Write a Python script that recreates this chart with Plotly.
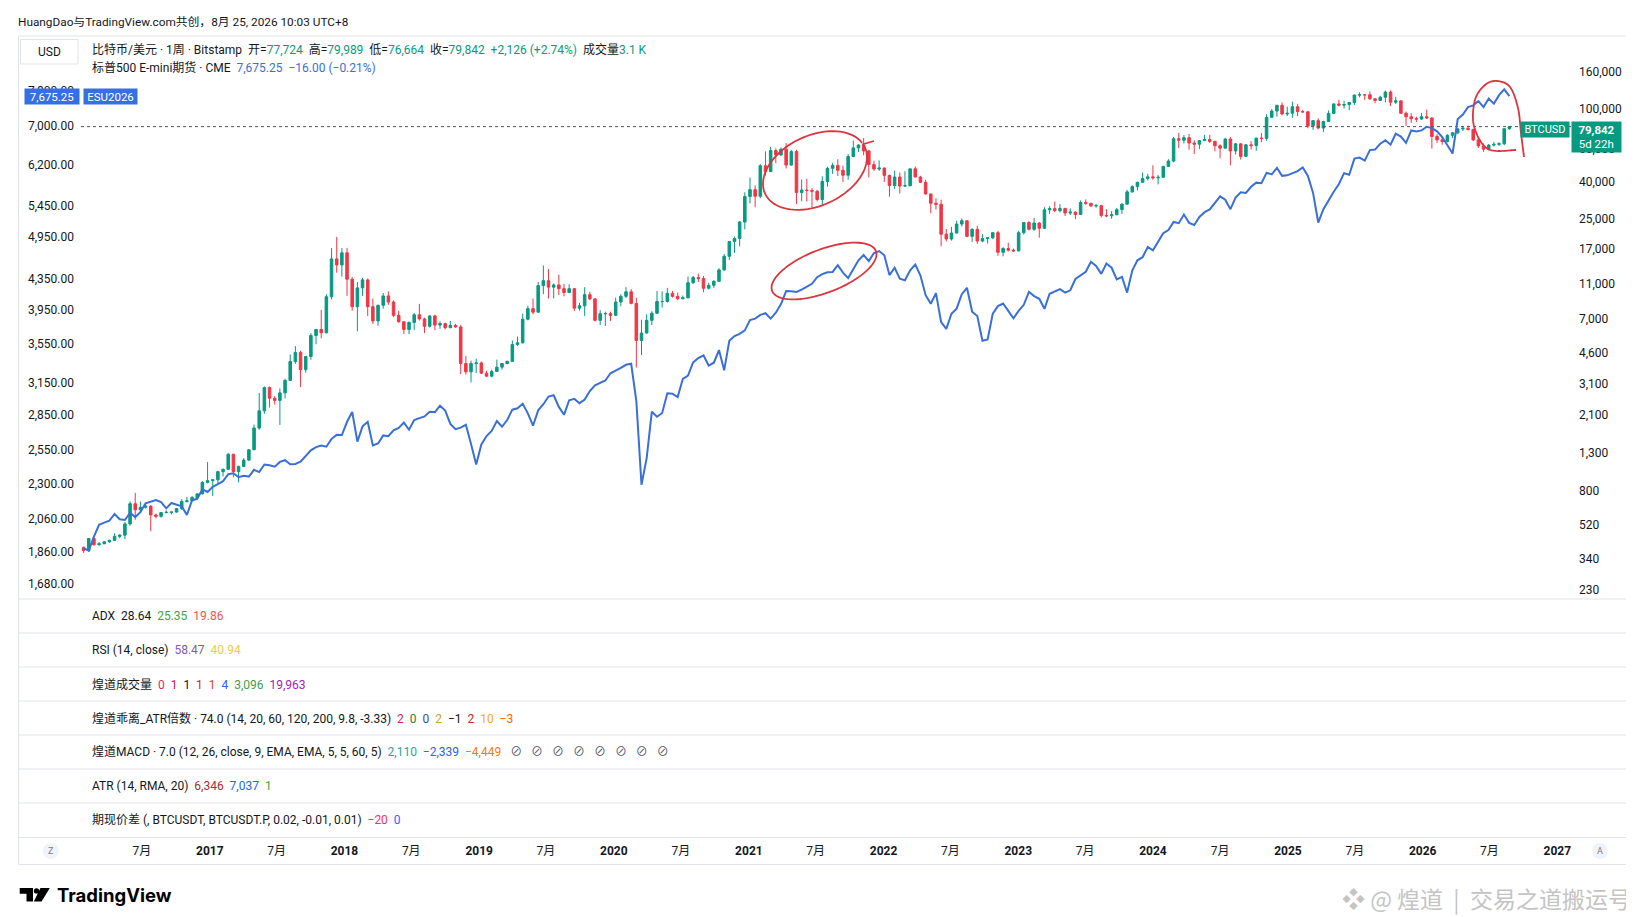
import numpy as np
import pandas as pd
import plotly.graph_objects as go

W, H = 1634, 917
FONT = "Roboto, 'Noto Sans CJK SC', sans-serif"
DARK = "#131722"
UP = "#089981"
DOWN = "#f23645"
ES_BLUE = "#3a6fd8"
LABEL_BLUE = "#3470e4"
RED_PEN = "#d9363e"
LINE = "#e0e3eb"

# BTCUSD (Bitstamp), two-week candles, 2016-01-25 .. 2026-08-24
btc_open = [
    392, 376, 438, 405, 410, 420, 428, 450, 457, 527, 680, 630, 650, 660, 590, 580, 608, 610, 612, 640, 700, 705, 735, 770, 890,
    910, 920, 1020, 1050, 1270, 1020, 1090, 1180, 1345, 1770, 2200, 2950, 2580, 2510, 2760, 3230, 4100, 4600, 3700, 4370, 5700, 6150, 5900, 9300, 15000, 13900,
    16200, 11600, 8200, 10400, 11500, 8200, 6850, 8350, 9400, 8700, 7350, 6780, 6150, 6720, 7400, 7030, 6400, 7300, 6500, 6620, 6290, 6480, 6350, 4000, 3600, 4000,
    4030, 3540, 3410, 3620, 3820, 4000, 4110, 5080, 5200, 7000, 8000, 7650, 10700, 11400, 10500, 10800, 10300, 9800, 10300, 8050, 8300, 9550, 9050, 6900, 7500, 7520,
    7350, 8700, 9350, 9900, 8550, 5350, 5880, 6900, 7550, 8750, 8750, 9700, 9350, 9070, 9180, 11100, 11850, 11700, 10350, 10750, 11300, 13050, 15500, 18700, 19400, 23900,
    33000, 36000, 33100, 48700, 45200, 59000, 55800, 60000, 49100, 58200, 34700, 35800, 35600, 35300, 31800, 39900, 47100, 48900, 46000, 43200, 54700, 61000, 63300, 58700, 49400, 46700,
    47300, 43100, 37900, 42200, 37700, 37800, 46800, 42200, 39500, 34100, 30300, 29900, 20500, 19300, 20800, 23300, 24300, 19950, 21800, 18800, 19400, 19570, 20900, 16300, 17100, 16750,
    16600, 20900, 23750, 21800, 23600, 22100, 27900, 28300, 27600, 28400, 26800, 27100, 26300, 30600, 30300, 29300, 29400, 26000, 25850, 26250, 27950, 29950, 35000, 37400, 39500, 41400,
    42300, 41800, 42100, 48300, 51700, 68500, 67200, 69400, 64900, 63900, 66900, 67800, 66200, 62700, 60800, 68200, 58700, 64200, 54800, 63400, 62800, 69000, 68800, 89800, 97200, 104500, 93700,
    94500, 102600, 96500, 96300, 80600, 86100, 78400, 85100, 94300, 106400, 104600, 105500, 108300, 119000, 119400, 119300, 113500, 111100, 115700, 123500, 108700, 110600, 94500, 90400, 88200, 87800,
    90500, 89000, 70500, 67500, 66000, 71500, 73800, 77500, 78200, 77000, 67500, 62500, 60000, 63200, 63800, 64300, 77724,
]
btc_high = [
    395, 440, 440, 420, 425, 432, 468, 462, 540, 700, 780, 700, 680, 665, 600, 612, 626, 615, 645, 720, 740, 750, 775, 905, 1150,
    925, 1030, 1060, 1290, 1280, 1100, 1210, 1350, 1850, 2760, 2990, 2990, 2650, 2920, 3300, 4480, 4980, 4700, 4400, 5860, 6190, 7880, 9600, 17200, 19800, 17200,
    17250, 11900, 11200, 11800, 11700, 9100, 8400, 9750, 9950, 8880, 7770, 6830, 6800, 7580, 8500, 7150, 7350, 7400, 6800, 6700, 6850, 6600, 6500, 4400, 4150, 4250,
    4100, 3650, 3700, 4200, 4020, 4140, 5350, 5630, 7500, 8300, 9100, 11200, 13800, 13200, 11000, 12300, 10950, 10900, 10350, 8600, 10500, 9900, 9150, 7850, 7700, 7700,
    9200, 9600, 10500, 10250, 9200, 6950, 7450, 7750, 10000, 9950, 10400, 9990, 9800, 9450, 12000, 12100, 12450, 12100, 11100, 11450, 13350, 15950, 18800, 19900, 24200, 34800,
    42000, 38000, 49700, 58400, 61800, 60600, 61300, 64900, 59500, 59600, 40900, 41300, 36700, 35900, 42600, 48000, 50500, 52900, 48800, 56500, 67000, 63700, 69000, 59500, 51900, 52100,
    47600, 43500, 45800, 44700, 45400, 46900, 48200, 42900, 40800, 34200, 32300, 31700, 21900, 22500, 24300, 25000, 24400, 22100, 22800, 20500, 19700, 21000, 21400, 17400, 18400, 17100,
    21400, 23900, 24200, 25200, 23900, 28800, 29200, 31000, 30000, 28600, 28400, 27300, 31400, 31800, 30400, 30100, 29700, 28100, 27450, 28600, 30300, 35900, 38000, 39700, 44700, 44000,
    49000, 43300, 48600, 52900, 70000, 73800, 71800, 72700, 67200, 67400, 71900, 72000, 66900, 63800, 69300, 70000, 65000, 64500, 64100, 66500, 69400, 73600, 93500, 99600, 105000, 108300, 102700,
    109400, 106500, 98800, 96500, 86500, 88700, 86000, 97900, 106600, 111900, 110500, 108900, 119500, 123200, 119800, 124500, 113800, 117900, 125700, 126200, 116400, 110900, 96600, 94600, 90600, 94800,
    99000, 90000, 72500, 70000, 72500, 74500, 78500, 80500, 81000, 77800, 69000, 64500, 64000, 65800, 65500, 78300, 79989,
]
btc_low = [
    365, 370, 400, 400, 408, 415, 425, 440, 435, 515, 555, 605, 640, 480, 565, 570, 603, 594, 608, 628, 690, 700, 730, 765, 880,
    750, 880, 960, 1045, 950, 890, 1080, 1165, 1340, 1730, 2120, 2290, 2380, 1840, 2570, 3220, 3980, 2970, 3560, 4200, 5100, 5500, 5850, 9000, 12600, 12000,
    9400, 7800, 6000, 9400, 7300, 6600, 6450, 8000, 8400, 7200, 6700, 5820, 5800, 6100, 6880, 5880, 6300, 6100, 6200, 6150, 6250, 6280, 3500, 3480, 3150, 3550,
    3500, 3380, 3360, 3600, 3700, 3950, 4090, 5000, 5150, 6900, 7450, 7600, 9600, 9100, 9100, 9500, 9350, 9750, 7750, 7800, 7300, 8900, 6800, 6500, 6430, 6850,
    7300, 8250, 9150, 8450, 3800, 4450, 5850, 6500, 7500, 8100, 8650, 9200, 8900, 9000, 9100, 10950, 11200, 9850, 10200, 10400, 11200, 12900, 14800, 16200, 17600, 21800,
    30300, 28800, 32300, 43000, 45000, 50300, 55000, 47000, 48800, 30000, 31100, 31000, 28800, 31000, 29300, 37400, 43900, 42800, 39600, 40800, 54300, 58000, 55600, 42000, 45700, 45600,
    39700, 32900, 36300, 34300, 37200, 37600, 42100, 39200, 33800, 26700, 28000, 17600, 18700, 18900, 20700, 22600, 19700, 18600, 18150, 18500, 18200, 19250, 15600, 15500, 16500, 16400,
    16500, 20400, 21500, 21400, 19600, 21900, 26500, 27100, 27000, 25800, 26100, 24800, 26200, 29700, 29000, 28700, 25300, 25400, 24900, 26000, 26500, 29900, 34600, 35600, 39400, 40500,
    40800, 38500, 41800, 48100, 50900, 60800, 64500, 59600, 56500, 60200, 66500, 65000, 58400, 53500, 60600, 49000, 56100, 52600, 54600, 59800, 58900, 65500, 66800, 89400, 90500, 92200, 91200,
    89300, 91200, 94800, 78200, 76600, 77200, 74500, 84700, 93400, 103000, 100400, 98200, 105100, 115700, 112000, 111700, 107300, 110600, 108600, 103500, 106300, 94000, 80600, 83800, 84500, 87000,
    88000, 60500, 65000, 63500, 65500, 69000, 72500, 75500, 76000, 66500, 61000, 58000, 59000, 62000, 62500, 63000, 76664,
]
btc_close = [
    376, 438, 405, 410, 420, 428, 450, 457, 527, 680, 630, 650, 660, 590, 580, 608, 610, 612, 640, 700, 705, 735, 770, 890, 910,
    920, 1020, 1050, 1270, 1020, 1090, 1180, 1345, 1770, 2200, 2950, 2580, 2510, 2760, 3230, 4100, 4600, 3700, 4370, 5700, 6150, 5900, 9300, 15000, 13900, 16200,
    11600, 8200, 10400, 11500, 8200, 6850, 8350, 9400, 8700, 7350, 6780, 6150, 6720, 7400, 7030, 6400, 7300, 6500, 6620, 6290, 6480, 6350, 4000, 3600, 4000, 4030,
    3540, 3410, 3620, 3820, 4000, 4110, 5080, 5200, 7000, 8000, 7650, 10700, 11400, 10500, 10800, 10300, 9800, 10300, 8050, 8300, 9550, 9050, 6900, 7500, 7520, 7350,
    8700, 9350, 9900, 8550, 5350, 5880, 6900, 7550, 8750, 8750, 9700, 9350, 9070, 9180, 11100, 11850, 11700, 10350, 10750, 11300, 13050, 15500, 18700, 19400, 23900, 33000,
    36000, 33100, 48700, 45200, 59000, 55800, 60000, 49100, 58200, 34700, 35800, 35600, 35300, 31800, 39900, 47100, 48900, 46000, 43200, 54700, 61000, 63300, 58700, 49400, 46700, 47300,
    43100, 37900, 42200, 37700, 37800, 46800, 42200, 39500, 34100, 30300, 29900, 20500, 19300, 20800, 23300, 24300, 19950, 21800, 18800, 19400, 19570, 20900, 16300, 17100, 16750, 16600,
    20900, 23750, 21800, 23600, 22100, 27900, 28300, 27600, 28400, 26800, 27100, 26300, 30600, 30300, 29300, 29400, 26000, 25850, 26250, 27950, 29950, 35000, 37400, 39500, 41400, 42300,
    41800, 42100, 48300, 51700, 68500, 67200, 69400, 64900, 63900, 66900, 67800, 66200, 62700, 60800, 68200, 58700, 64200, 54800, 63400, 62800, 69000, 68800, 89800, 97200, 104500, 93700, 94500,
    102600, 96500, 96300, 80600, 86100, 78400, 85100, 94300, 106400, 104600, 105500, 108300, 119000, 119400, 119300, 113500, 111100, 115700, 123500, 108700, 110600, 94500, 90400, 88200, 87800, 90500,
    89000, 70500, 67500, 66000, 71500, 73800, 77500, 78200, 77000, 67500, 62500, 60000, 63200, 63800, 64300, 77724, 79842,
]

# S&P 500 E-mini (CME) closes on the same two-week grid
es_close = [
    1880, 1865, 1948, 2022, 2035, 2048, 2091, 2057, 2052, 2099, 2071, 2103, 2162, 2173, 2184, 2169, 2128, 2164, 2153, 2141, 2085, 2182, 2192, 2258, 2239,
    2275, 2295, 2316, 2367, 2373, 2344, 2355, 2349, 2399, 2382, 2439, 2433, 2423, 2459, 2472, 2441, 2443, 2461, 2502, 2549, 2575, 2587, 2578, 2642, 2675, 2673,
    2786, 2872, 2619, 2747, 2786, 2588, 2604, 2670, 2663, 2712, 2734, 2779, 2718, 2801, 2818, 2833, 2874, 2871, 2929, 2885, 2767, 2723, 2736, 2760, 2600, 2440,
    2596, 2665, 2708, 2793, 2743, 2801, 2893, 2905, 2946, 2860, 2752, 2887, 2942, 3014, 3026, 2918, 2847, 2979, 2992, 2952, 2986, 3066, 3120, 3141, 3168, 3240,
    3265, 3295, 3327, 3337, 2972, 2290, 2488, 2875, 2830, 2863, 3044, 3041, 3009, 3185, 3216, 3351, 3397, 3426, 3319, 3348, 3483, 3270, 3585, 3638, 3663, 3703,
    3824, 3841, 3886, 3906, 3841, 3913, 4019, 4185, 4181, 4173, 4204, 4247, 4280, 4370, 4411, 4437, 4442, 4535, 4433, 4357, 4471, 4605, 4682, 4595, 4712, 4740,
    4677, 4398, 4500, 4349, 4329, 4463, 4545, 4392, 4132, 4023, 4158, 3800, 3720, 3899, 3962, 4145, 4228, 3924, 3873, 3586, 3600, 3901, 3993, 4026, 3934, 3845,
    3935, 4010, 4175, 4120, 4085, 3960, 4150, 4180, 4210, 4165, 4195, 4345, 4395, 4445, 4585, 4525, 4415, 4560, 4500, 4340, 4375, 4165, 4460, 4605, 4650, 4800,
    4750, 4890, 5010, 5060, 5190, 5170, 5310, 5175, 5140, 5270, 5350, 5395, 5510, 5620, 5560, 5400, 5600, 5690, 5680, 5790, 5865, 5855, 6045, 6020, 6140, 5990, 6000,
    6040, 6080, 6150, 5990, 5680, 5180, 5400, 5560, 5700, 5840, 6040, 6010, 6320, 6340, 6280, 6490, 6500, 6620, 6690, 6600, 6830, 6770, 6640, 6900, 6880, 6900,
    6980, 6950, 6880, 6760, 6600, 6420, 7150, 7250, 7420, 7460, 7560, 7420, 7620, 7500, 7700, 7840, 7675.25,
]

es_ticks = [1680, 1860, 2060, 2300, 2550, 2850, 3150, 3550, 3950, 4350, 4950, 5450, 6200, 7000, 7800]
btc_ticks = [230, 340, 520, 800, 1300, 2100, 3100, 4600, 7000, 11000, 17000, 25000, 40000, 60000, 100000, 160000]
years = list(range(2016, 2027))

assert len(btc_open) == len(btc_high) == len(btc_low) == len(btc_close) == len(es_close)

periods = pd.date_range(end="2026-08-24", periods=len(btc_close), freq="14D")
X_RANGE = ["2016-01-18", "2027-02-07"]

x_tickvals, x_ticktext = [], []
for y in years:
    x_tickvals += [f"{y}-07-01", f"{y + 1}-01-01"]
    x_ticktext += ["7月", f"<b>{y + 1}</b>"]


def px(x):
    return x / W


def py(y):
    return 1 - y / H


def path_of(points):
    return "M " + " L ".join(f"{px(x):.5f},{py(y):.5f}" for x, y in points)


def ellipse(cx, cy, a, b, tilt, t0=0.0, t1=2 * np.pi, n=90):
    th = np.radians(tilt)
    t = np.linspace(t0, t1, n)
    xs = cx + a * np.cos(th) * np.cos(t) - b * np.sin(th) * np.sin(t)
    ys = cy - (a * np.sin(th) * np.cos(t) + b * np.cos(th) * np.sin(t))
    return list(zip(xs, ys))


def smooth(points, steps=14):
    p = [points[0]] + points + [points[-1]]
    out = []
    for i in range(1, len(p) - 2):
        p0, p1, p2, p3 = (np.array(q, dtype=float) for q in p[i - 1:i + 3])
        for s in np.linspace(0, 1, steps, endpoint=False):
            out.append(0.5 * (2 * p1 + (p2 - p0) * s + (2 * p0 - 5 * p1 + 4 * p2 - p3) * s ** 2
                              + (3 * p1 - p0 - 3 * p2 + p3) * s ** 3))
    out.append(np.array(points[-1], dtype=float))
    return [tuple(q) for q in out]


def c(color, text):
    return f"<span style='color:{color}'>{text}</span>"


sp = "\u00a0"
gap = sp + " "      # TradingView spaces legend values a bit wider


def values(*items):
    return gap.join(c(col, txt) for col, txt in items)


fig = go.Figure()

# last-price dotted line of BTC
fig.add_trace(go.Scatter(
    x=X_RANGE, y=[btc_close[-1]] * 2, mode="lines",
    line=dict(color="#50535e", width=1, dash="dot"), hoverinfo="skip", yaxis="y"))

fig.add_trace(go.Candlestick(
    x=periods, open=btc_open, high=btc_high, low=btc_low, close=btc_close,
    increasing=dict(line=dict(color=UP, width=1), fillcolor=UP),
    decreasing=dict(line=dict(color=DOWN, width=1), fillcolor=DOWN),
    whiskerwidth=0, hoverinfo="skip", yaxis="y", name="BTCUSD"))

fig.add_trace(go.Scatter(
    x=periods, y=es_close, mode="lines", line=dict(color=ES_BLUE, width=2),
    hoverinfo="skip", yaxis="y2", name="ES1!"))

shapes = [
    dict(type="rect", xref="paper", yref="paper", x0=px(10.5), x1=px(1623), y0=py(28), y1=py(856.5),
         line=dict(color=LINE, width=1), layer="below"),
    dict(type="rect", xref="paper", yref="paper", x0=px(12.5), x1=px(70), y0=py(31.5), y1=py(56),
         line=dict(color=LINE, width=1), fillcolor="white"),
]
for yy in [591, 625, 659, 693, 727, 761, 795, 829.5]:
    shapes.append(dict(type="line", xref="paper", yref="paper", x0=px(10.5), x1=px(1623),
                       y0=py(yy), y1=py(yy), line=dict(color=LINE, width=1)))
for cx in [42.7, 1592]:
    shapes.append(dict(type="circle", xref="paper", yref="paper", x0=px(cx - 8), x1=px(cx + 8),
                       y0=py(851), y1=py(835), line=dict(width=0), fillcolor="#f0f3fa"))

# hand-drawn red marks
loop1 = ellipse(807, 162.5, 55, 35, 25, 0.15, 2 * np.pi + 0.1) + [(866, 133)]
loop2 = ellipse(816, 263, 55.6, 21.6, 21)
loop3 = smooth([(1508, 142), (1480, 141), (1466, 118), (1467, 92), (1477, 77), (1489, 73),
                (1502, 79), (1510, 100), (1513, 125), (1516, 149)])
for pts in (loop1, loop2, loop3):
    shapes.append(dict(type="path", xref="paper", yref="paper", path=path_of(pts),
                       line=dict(color=RED_PEN, width=1.8)))

# TradingView logo mark
shapes += [
    dict(type="path", xref="paper", yref="paper",
         path=path_of([(11.7, 880), (25, 880), (25, 893.5), (18.5, 893.5), (18.5, 885.8), (11.7, 885.8)]) + " Z",
         fillcolor="#000000", line=dict(width=0)),
    dict(type="circle", xref="paper", yref="paper", x0=px(25.8), x1=px(31.2), y0=py(885.6), y1=py(880.2),
         fillcolor="#000000", line=dict(width=0)),
    dict(type="path", xref="paper", yref="paper",
         path=path_of([(32.5, 880), (41.8, 880), (33.6, 893.5), (25.8, 893.5)]) + " Z",
         fillcolor="#000000", line=dict(width=0)),
]

ann = []


def text_at(x, y, text, size=12, color=DARK, anchor="left", family=FONT):
    ann.append(dict(x=px(x), y=py(y), xref="paper", yref="paper", text=text, showarrow=False,
                    xanchor=anchor, yanchor="middle", font=dict(size=size, color=color, family=family)))


text_at(8, 14, "HuangDao与TradingView.com共创，8月 25, 2026 10:03 UTC+8", size=11.8)
text_at(41, 44, "USD", anchor="center")
text_at(82, 42, "比特币/美元 · 1周 · Bitstamp" + sp * 2
        + "开=" + c(UP, f"{btc_open[-1]:,}") + sp * 2
        + "高=" + c(UP, f"{btc_high[-1]:,}") + sp * 2
        + "低=" + c(UP, f"{btc_low[-1]:,}") + sp * 2
        + "收=" + c(UP, f"{btc_close[-1]:,}") + sp * 2
        + c(UP, "+2,126 (+2.74%)") + sp * 2 + "成交量" + c(UP, "3.1 K"))
text_at(82, 59, "标普500 E-mini期货 · CME" + sp * 2 + c(ES_BLUE, f"{es_close[-1]:,.2f}" + sp * 2 + "−16.00 (−0.21%)"))

rows = [
    "ADX" + gap + values((DARK, "28.64"), ("#43a047", "25.35"), ("#ef5350", "19.86")),
    "RSI (14, close)" + gap + values(("#7e57c2", "58.47"), ("#f2c94c", "40.94")),
    "煌道成交量" + gap + values(("#e91e63", "0"), ("#c2185b", "1"), (DARK, "1"), ("#c62828", "1"),
                           ("#e53935", "1"), ("#2962ff", "4"), ("#43a047", "3,096"), ("#9c27b0", "19,963")),
    "煌道乖离_ATR倍数 · 74.0 (14, 20, 60, 120, 200, 9.8, -3.33)" + gap
    + values(("#d81b60", "2"), ("#2e7d32", "0"), ("#3949ab", "0"), ("#c9a227", "2"), (DARK, "−1"),
             ("#c62828", "2"), ("#f9a825", "10"), ("#ef6c00", "−3")),
    "煌道MACD · 7.0 (12, 26, close, 9, EMA, EMA, 5, 5, 60, 5)" + gap
    + values(("#26a69a", "2,110"), ("#2962ff", "−2,339"), ("#f57c00", "−4,449"))
    + sp * 2 + " " + (sp * 2 + " ").join([c("#50535e", "⊘")] * 8),
    "ATR (14, RMA, 20)" + gap + values(("#b22833", "6,346"), ("#2962ff", "7,037"), ("#43a047", "1")),
    "期现价差 (, BTCUSDT, BTCUSDT.P, 0.02, -0.01, 0.01)" + gap + values(("#f23645", "−20"), ("#2962ff", "0")),
]
for i, r in enumerate(rows):
    text_at(82, 608 + 34 * i, r)

text_at(42.7, 843, "Z", size=9, color="#787b86", anchor="center")
text_at(1592, 843, "A", size=9, color="#787b86", anchor="center")
text_at(47, 887, "<b>TradingView</b>", size=18.5, color="#000000", family="Inter, Roboto, sans-serif")
ann.append(dict(x=px(1625), y=py(890), xref="paper", yref="paper", showarrow=False, xanchor="right",
                yanchor="middle", text="❖ @ 煌道" + sp * 2 + "|" + sp * 2 + "交易之道搬运号",
                font=dict(size=23, color="#c4c4c4", family="'Noto Sans CJK SC', sans-serif")))

# price labels on the scales
ann += [
    dict(x=px(1537), y=np.log10(btc_close[-1]), xref="paper", yref="y", text="BTCUSD", showarrow=False,
         xanchor="center", yanchor="top", yshift=6, width=48, height=15, bgcolor=UP, borderpad=0,
         font=dict(size=11, color="white", family=FONT)),
    dict(x=px(1588), y=np.log10(btc_close[-1]), xref="paper", yref="y",
         text=f"<b>{btc_close[-1]:,}</b><br>5d 22h", showarrow=False, xanchor="center", yanchor="top",
         yshift=6, width=49, height=30, bgcolor=UP, borderpad=0,
         font=dict(size=11.5, color="white", family=FONT)),
    dict(x=px(44), y=np.log10(es_close[-1]), xref="paper", yref="y2", text=f"{es_close[-1]:,.2f}",
         showarrow=False, xanchor="center", yanchor="middle", width=54, height=15, bgcolor=LABEL_BLUE,
         borderpad=0, font=dict(size=11.5, color="white", family=FONT)),
    dict(x=px(102.5), y=np.log10(es_close[-1]), xref="paper", yref="y2", text="ESU2026",
         showarrow=False, xanchor="center", yanchor="middle", width=53, height=15, bgcolor=LABEL_BLUE,
         borderpad=0, font=dict(size=11.5, color="white", family=FONT)),
]

fig.update_layout(
    width=W, height=H, margin=dict(l=0, r=0, t=0, b=0),
    paper_bgcolor="white", plot_bgcolor="white", showlegend=False, hovermode=False,
    font=dict(family=FONT, size=12, color=DARK),
    xaxis=dict(domain=[px(73), px(1563)], range=X_RANGE, anchor="free", position=py(834),
               showgrid=False, zeroline=False, showline=False, ticks="",
               tickvals=x_tickvals, ticktext=x_ticktext, tickfont=dict(size=12, color=DARK),
               rangeslider=dict(visible=False)),
    yaxis=dict(domain=[py(591), py(28)], type="log", range=[2.3096, 5.3995], side="right", anchor="x",
               showgrid=False, zeroline=False, showline=False, ticks="", ticklabelstandoff=7,
               tickvals=btc_ticks, ticktext=[f"{v:,}" for v in btc_ticks], tickfont=dict(size=12, color=DARK)),
    yaxis2=dict(overlaying="y", type="log", range=[3.2054, 3.9665], side="left", anchor="x",
                showgrid=False, zeroline=False, showline=False, ticks="", ticklabelstandoff=6,
                tickvals=es_ticks, ticktext=[f"{v:,.2f}" for v in es_ticks], tickfont=dict(size=12, color=DARK)),
    shapes=shapes, annotations=ann,
)

fig.write_html("out.html")
